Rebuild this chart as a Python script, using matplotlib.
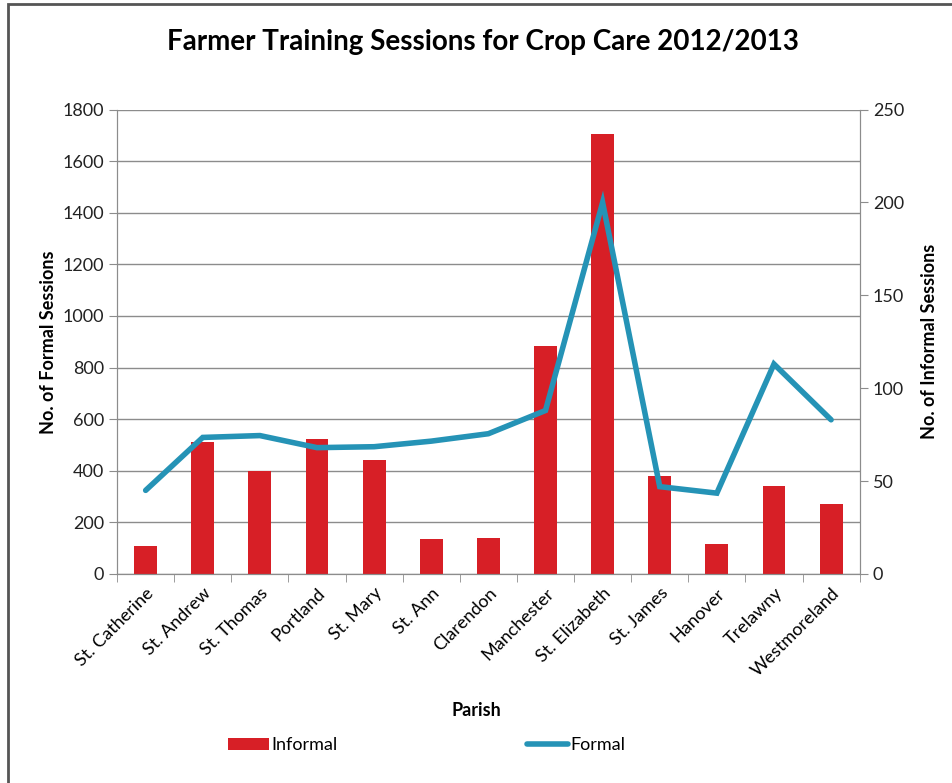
import matplotlib.pyplot as plt
import numpy as np
from matplotlib.patches import Rectangle

plt.rcParams['font.family'] = ['Lato', 'DejaVu Sans']

parishes = ['St. Catherine', 'St. Andrew', 'St. Thomas', 'Portland', 'St. Mary',
            'St. Ann', 'Clarendon', 'Manchester', 'St. Elizabeth', 'St. James',
            'Hanover', 'Trelawny', 'Westmoreland']
informal = [110, 510, 400, 525, 440, 137, 141, 885, 1705, 380, 115, 341, 273]
formal = [45, 73.5, 74.5, 68, 68.5, 71.5, 75.5, 88, 200, 47, 43.5, 113, 83]

bar_color = '#D71F26'
line_color = '#2593B6'
axis_gray = '#8C8C8C'

fig = plt.figure(figsize=(9.52, 7.83), dpi=100)
ax = fig.add_axes([0.123, 0.267, 0.780, 0.593])
x = np.arange(len(parishes))

ax.bar(x, informal, width=0.4, color=bar_color, zorder=2, label='Informal')
ax.set_ylim(0, 1800)
ax.set_yticks(range(0, 1801, 200))
ax.set_xlim(-0.5, len(parishes) - 0.5)
ax.yaxis.grid(True, color='#8C8C8C', linewidth=1)
ax.set_axisbelow(True)

ax2 = ax.twinx()
ax2.plot(x, formal, color=line_color, linewidth=4, solid_capstyle='round',
         solid_joinstyle='miter', zorder=3, label='Formal')
ax2.set_ylim(0, 250)
ax2.set_yticks(range(0, 251, 50))

for a in (ax, ax2):
    for s in a.spines.values():
        s.set_color(axis_gray)
    a.spines['top'].set_visible(False)
    a.tick_params(axis='y', colors=axis_gray, labelcolor='#222222',
                  labelsize=13, length=6, direction='out')

ax.set_xticks(x)
ax.set_xticklabels(parishes, rotation=45, ha='right', rotation_mode='anchor',
                   fontsize=13)
ax.tick_params(axis='x', length=0, pad=8)
ax.set_xticks(np.arange(-0.5, len(parishes)), minor=True)
ax.tick_params(axis='x', which='minor', length=6, color=axis_gray)

ax.set_ylabel('No. of Formal Sessions', fontsize=13, fontweight='bold', labelpad=4)
ax2.set_ylabel('No. of Informal Sessions', fontsize=13, fontweight='bold', labelpad=12)
fig.text(0.5, 0.093, 'Parish', ha='center', va='center', fontsize=13, fontweight='bold')

fig.suptitle('Farmer Training Sessions for Crop Care 2012/2013', x=0.507, y=0.963,
             fontsize=20, fontweight='bold')

h1, l1 = ax.get_legend_handles_labels()
h2, l2 = ax2.get_legend_handles_labels()
fig.legend(h1 + h2, l1 + l2, loc='center', bbox_to_anchor=(0.448, 0.048), ncol=2,
           frameon=False, fontsize=13, columnspacing=10.5, handlelength=2.3,
           handletextpad=0.1)

# frame of the original screenshot
fig.patches.append(Rectangle((0.008, -0.05), 1.2, 1.045, transform=fig.transFigure,
                             fill=False, edgecolor='#555555', linewidth=2))

fig.savefig('out.png', dpi=100)
